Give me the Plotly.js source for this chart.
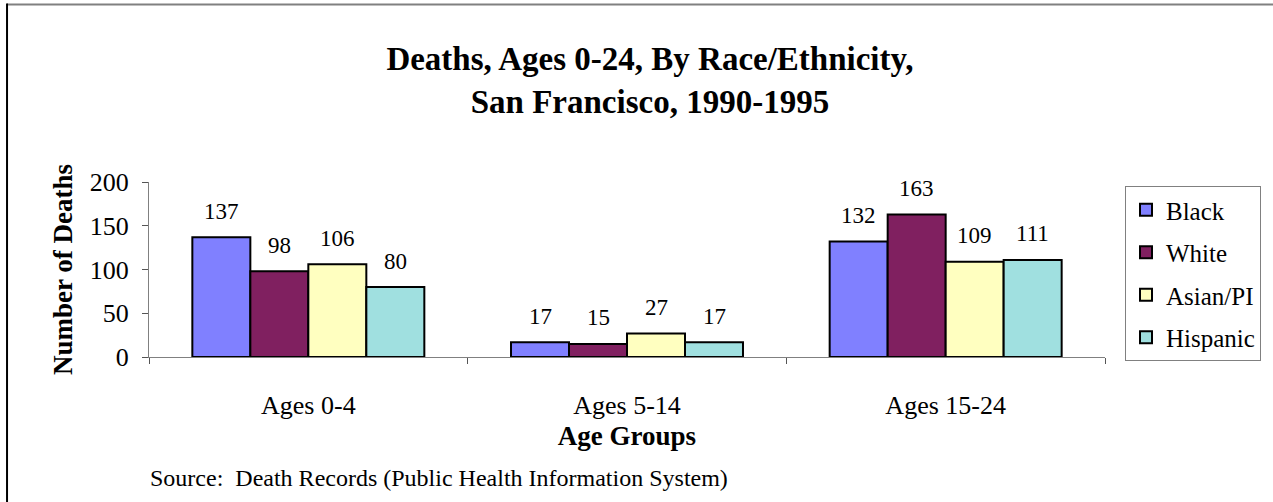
<!DOCTYPE html>
<html>
<head>
<meta charset="utf-8">
<script src="https://cdn.plot.ly/plotly-3.0.1.min.js"></script>
<style>html,body{margin:0;padding:0;background:#fff;}#chart{width:1273px;height:502px;}</style>
</head>
<body>
<div id="chart"></div>
<script>
// ---- data ----
var categories = ["Ages 0-4", "Ages 5-14", "Ages 15-24"];
var seriesNames = ["Black", "White", "Asian/PI", "Hispanic"];
var blackValues = [137, 17, 132];
var whiteValues = [98, 15, 163];
var asianValues = [106, 27, 109];
var hispanicValues = [80, 17, 111];
var yTicks = [0, 50, 100, 150, 200];

var seriesValues = [blackValues, whiteValues, asianValues, hispanicValues];
var colors = ["#8080FF", "#802060", "#FFFFC0", "#A0E0E0"];
var FONT = "Liberation Serif";
var bargap = 0.272;

var traces = seriesNames.map(function (name, j) {
  return {
    type: "bar",
    name: name,
    x: categories,
    y: seriesValues[j],
    legendgroup: "g" + j,
    marker: { color: colors[j], line: { color: "#000", width: 2 } },
    hoverinfo: "x+y+name"
  };
});

// value labels, positioned through the category axis
var annotations = [];
var nS = seriesNames.length;
var bw = (1 - bargap) / nS;
seriesValues.forEach(function (vals, j) {
  vals.forEach(function (v, i) {
    annotations.push({
      x: i + (j - (nS - 1) / 2) * bw,
      y: v,
      xref: "x", yref: "y",
      text: String(v),
      showarrow: false,
      yanchor: "middle",
      yshift: 26,
      font: { family: FONT, size: 23, color: "#000" }
    });
  });
});

annotations.push({
  xref: "paper", yref: "paper",
  x: -0.001, y: -0.691,
  xanchor: "left", yanchor: "middle",
  text: "Source:  Death Records (Public Health Information System)",
  showarrow: false,
  font: { family: FONT, size: 24, color: "#000" }
});

var layout = {
  width: 1273, height: 502,
  margin: { l: 149, r: 168, t: 182, b: 145, pad: 0 },
  paper_bgcolor: "#fff", plot_bgcolor: "#fff",
  font: { family: FONT, size: 24, color: "#000" },
  title: {
    text: "<b>Deaths, Ages 0-24, By Race/Ethnicity,<br>San Francisco, 1990-1995</b>",
    font: { family: FONT, size: 33, color: "#000" },
    xref: "paper", x: 0.524, xanchor: "center",
    yref: "container", y: 1 - 70 / 502, yanchor: "top"
  },
  barmode: "group",
  bargap: bargap,
  bargroupgap: 0,
  showlegend: true,
  legend: {
    x: (1125 - 149) / 956, xanchor: "left",
    y: (357 - 186) / 175, yanchor: "top",
    bordercolor: "#808080", borderwidth: 1, bgcolor: "#fff",
    font: { family: FONT, size: 25, color: "#000" },
    traceorder: "grouped",
    tracegroupgap: 7,
    itemwidth: 30
  },
  xaxis: {
    type: "category",
    showline: true, linecolor: "#808080", linewidth: 1,
    ticks: "outside", tickson: "boundaries", ticklen: 6, tickcolor: "#555", tickwidth: 1,
    showgrid: false, zeroline: false,
    ticklabelstandoff: 25,
    tickfont: { family: FONT, size: 26, color: "#000" },
    title: { text: "<b>Age Groups</b>", font: { family: FONT, size: 27, color: "#000" }, standoff: 6 },
    automargin: false
  },
  yaxis: {
    range: [0, 200],
    tickvals: yTicks,
    showline: true, linecolor: "#808080", linewidth: 1,
    ticks: "outside", ticklen: 6, tickcolor: "#555", tickwidth: 1,
    showgrid: false, zeroline: false,
    ticklabelstandoff: 8,
    tickfont: { family: FONT, size: 26, color: "#000" },
    title: { text: "<b>Number of Deaths</b>", font: { family: FONT, size: 27, color: "#000" }, standoff: 9 },
    automargin: false
  },
  annotations: annotations,
  shapes: [
    { type: "line", xref: "paper", yref: "paper", x0: -0.1485, x1: 1.2, y0: 2.014, y1: 2.014, line: { color: "#808080", width: 2 } },
    { type: "line", xref: "paper", yref: "paper", x0: -0.1485, x1: -0.1485, y0: 2.02, y1: -0.83, line: { color: "#000", width: 2 } }
  ]
};

Plotly.newPlot("chart", traces, layout, { displayModeBar: false, staticPlot: true });
</script>
</body>
</html>
